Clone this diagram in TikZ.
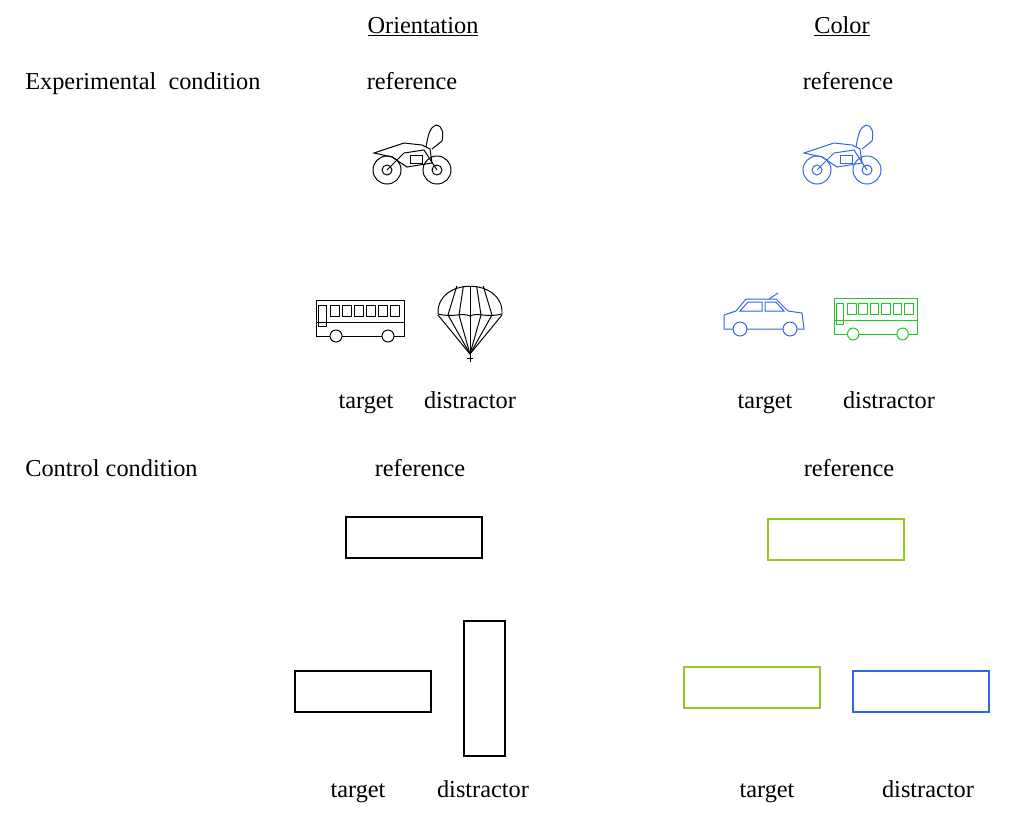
\documentclass[tikz,border=0pt]{standalone}
\usepackage{fontspec}
\setmainfont{Liberation Serif}
\definecolor{cgreen}{RGB}{150,200,30}
\definecolor{cblue}{RGB}{50,100,230}
\definecolor{bgreen}{RGB}{30,200,40}
\tikzstyle{lbl}=[inner sep=0pt, font=\fontsize{17.3}{20}\selectfont]
\tikzstyle{head}=[lbl, anchor=base]
\tikzstyle{bar}=[line width=2pt]
\tikzset{
  moto/.pic={
    \draw (-25,15) circle (14) (-25,15) circle (5);
    \draw (25,15) circle (14) (25,15) circle (5);
    \draw (-25,15) -- (-8,-2) -- (12,-5) -- (25,15);
    \draw (-38,-2) -- (-8,-12) -- (10,-10) -- (18,-6) -- (20,8) -- (-5,12) -- (-20,2) -- cycle;
    \draw (14,-8) .. controls (16,-20) and (18,-28) .. (24,-30) .. controls (30,-30) and (32,-22) .. (30,-14) -- (20,-6);
    \draw (-2,0) rectangle (10,8);
  },
  bus/.pic={
    \draw (-44,-18) rectangle (44,18);
    \foreach \i in {0,...,5} \draw (-30+\i*12,-13) rectangle (-21+\i*12,-2);
    \draw (-42,-13) rectangle (-34,8);
    \draw (-44,4) -- (44,4);
    \draw[fill=white] (-24,18) circle (6) (28,18) circle (6);
  },
  chute/.pic={
    \draw (-32,-8) .. controls (-34,-45) and (34,-45) .. (32,-8);
    \draw (-32,-8) .. controls (-16,-4) and (-8,-10) .. (0,-6) .. controls (8,-10) and (16,-4) .. (32,-8);
    \foreach \x in {-22,-11,0,11,22} \draw (\x*0.6,-36) -- (\x,-7);
    \foreach \x in {-32,-22,-11,0,11,22,32} \draw (\x,-7) -- (0,32);
    \draw (0,32) -- (0,40) (-3,36) -- (3,36);
  },
  car/.pic={
    \draw (-40,14) -- (-40,0) -- (-28,-4) -- (-18,-16) -- (12,-16) -- (24,-4) -- (38,-2) -- (40,14) -- cycle;
    \draw (-16,-13) -- (-2,-13) -- (-2,-4) -- (-24,-4) -- cycle;
    \draw (1,-13) -- (12,-13) -- (20,-4) -- (1,-4) -- cycle;
    \draw (5,-16) -- (14,-22);
    \draw[fill=white] (-24,14) circle (7) (26,14) circle (7);
  }
}
\begin{document}
\begin{tikzpicture}[x=0.025cm, y=-0.025cm]
  \useasboundingbox (0,0) rectangle (1016,824);
  % headings
  \node[head] (hor) at (423,33) {\underline{Orientation}};
  \node[head] (hcol) at (842,33) {\underline{Color}};
  \node[lbl, anchor=base west] (cexp) at (25,89) {Experimental\ \ condition};
  \node[lbl, anchor=base west] (cctl) at (25,476) {Control condition};
  % experimental condition
  \node[head] (r1) at (412,89) {reference};
  \node[head] (r2) at (848,89) {reference};
  \pic[line width=0.7pt] at (412,155) {moto};
  \pic[line width=0.7pt, cblue] at (842,155) {moto};
  \pic[line width=0.7pt] at (360,318) {bus};
  \pic[line width=0.7pt] at (470,322) {chute};
  \pic[line width=0.7pt, cblue] at (764,315) {car};
  \pic[line width=0.7pt, bgreen, xscale=0.95] at (876,316) {bus};
  \node[head] (t1) at (366,408) {target};
  \node[head] (d1) at (470,408) {distractor};
  \node[head] (t2) at (765,408) {target};
  \node[head] (d2) at (889,408) {distractor};
  % control condition
  \node[head] (r3) at (420,476) {reference};
  \node[head] (r4) at (849,476) {reference};
  \draw[bar] (346,517) rectangle (482,558);
  \draw[bar, cgreen] (768,519) rectangle (904,560);
  \draw[bar] (295,671) rectangle (431,712);
  \draw[bar] (464,621) rectangle (505,756);
  \draw[bar, cgreen] (684,667) rectangle (820,708);
  \draw[bar, cblue] (853,671) rectangle (989,712);
  \node[head] (t3) at (358,797) {target};
  \node[head] (d3) at (483,797) {distractor};
  \node[head] (t4) at (767,797) {target};
  \node[head] (d4) at (928,797) {distractor};
\end{tikzpicture}
\end{document}
